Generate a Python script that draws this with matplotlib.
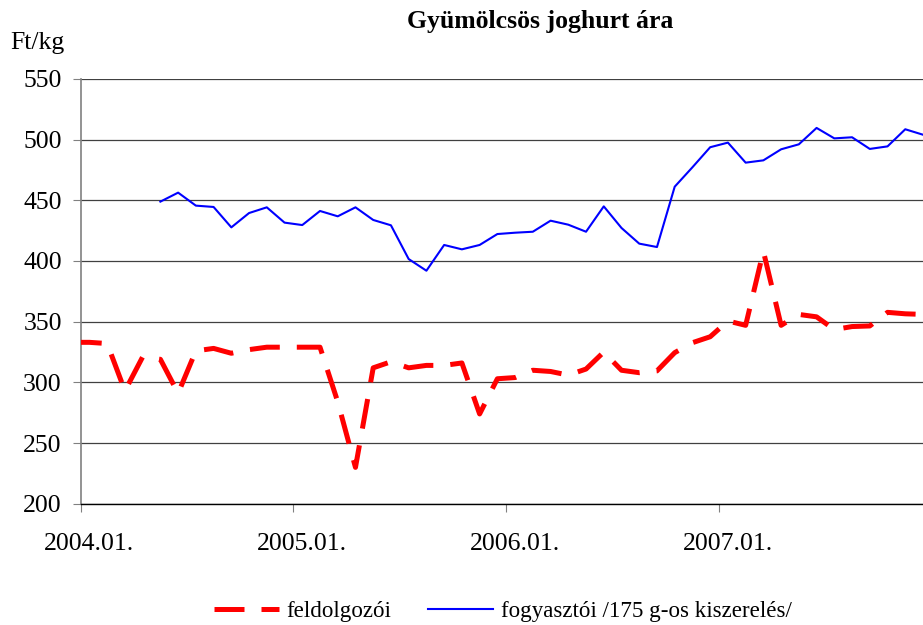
import numpy as np
import matplotlib.pyplot as plt

plt.rcParams['font.family'] = ['Liberation Serif', 'DejaVu Serif']

# month index: 0 = 2004.01., 12 = 2005.01. ... (-1 = 2003.12.)
red_start = -1
feldolgozoi = [333, 333, 332, 293, 321, 319, 291, 326, 328, 324, 327, 329,
               329, 329, 329, 284, 230, 312, 317, 312, 314, 314, 316, 274,
               303, 304, 310, 309, 306, 311, 325, 310, 308, 309.5, 324.5, 332.7,
               337.6, 350.6, 347, 408, 347, 356, 354, 343.5, 346, 346.5, 357.7,
               356.5, 356]

blue_start = 4
fogyasztoi = [448.9, 456.3, 445.6, 444.5, 427.7, 439.5, 444.2, 431.6,
              429.6, 441.2, 436.8, 444.2, 433.8, 429.4, 401.6, 392, 413.2,
              409.6, 413.2, 422.2, 423.3, 424.1, 433.2, 429.9, 424.1, 445,
              427.2, 414.3, 411.5, 461.2, 477.2, 493.7, 497.5, 481, 482.9,
              492, 496.1, 509.6, 501, 501.9, 492.3, 494.4, 508.5, 504]

year_ticks = [0, 12, 24, 36]
year_labels = ['2004.01.', '2005.01.', '2006.01.', '2007.01.']

# points sit in the middle of each month's slot
x_red = np.arange(len(feldolgozoi)) + red_start + 0.5
x_blue = np.arange(len(fogyasztoi)) + blue_start + 0.5

fig = plt.figure(figsize=(9.23, 6.25), dpi=100)
ax = fig.add_axes([0.0873, 0.1939, 0.9127, 0.6799])

ax.plot(x_red, feldolgozoi, color='#ff0000', lw=3.6, linestyle=(0, (6, 3.4)),
        dash_capstyle='butt', label='feldolgozói', zorder=3)
ax.plot(x_blue, fogyasztoi, color='#0000ff', lw=1.5, label='fogyasztói /175 g-os kiszerelés/', zorder=3)

ax.set_xlim(0, 47.5)
ax.set_ylim(200, 550)
ax.set_yticks(np.arange(200, 551, 50))
ax.yaxis.grid(True, color='#404040', lw=0.9)
ax.set_axisbelow(True)

ax.set_xticks(year_ticks)
ax.set_xticklabels([])
ax.set_xticks([t + 0.5 for t in year_ticks], minor=True)
ax.set_xticklabels(year_labels, minor=True)
ax.tick_params(axis='x', which='major', length=6, width=0.8, color='#808080', direction='out')
ax.tick_params(axis='x', which='minor', length=0, pad=21, labelsize=18.5)
ax.tick_params(axis='y', length=5.5, width=0.8, color='#808080', pad=8, labelsize=18.5)

for s in ['top', 'right']:
    ax.spines[s].set_visible(False)
ax.spines['left'].set_color('#808080')
ax.spines['left'].set_linewidth(1.2)
ax.spines['bottom'].set_color('#000000')
ax.spines['bottom'].set_linewidth(1.0)

fig.text(0.585, 0.965, 'Gyümölcsös joghurt ára', ha='center', va='center',
         fontsize=18.5, fontweight='bold')
fig.text(0.041, 0.931, 'Ft/kg', ha='center', va='center', fontsize=18.5)

fig.legend(loc='center', bbox_to_anchor=(0.545, 0.022), ncol=2, frameon=False,
           fontsize=16.6, handlelength=2.8, handletextpad=0.35, columnspacing=1.6)

fig.savefig('out.png', dpi=100)
